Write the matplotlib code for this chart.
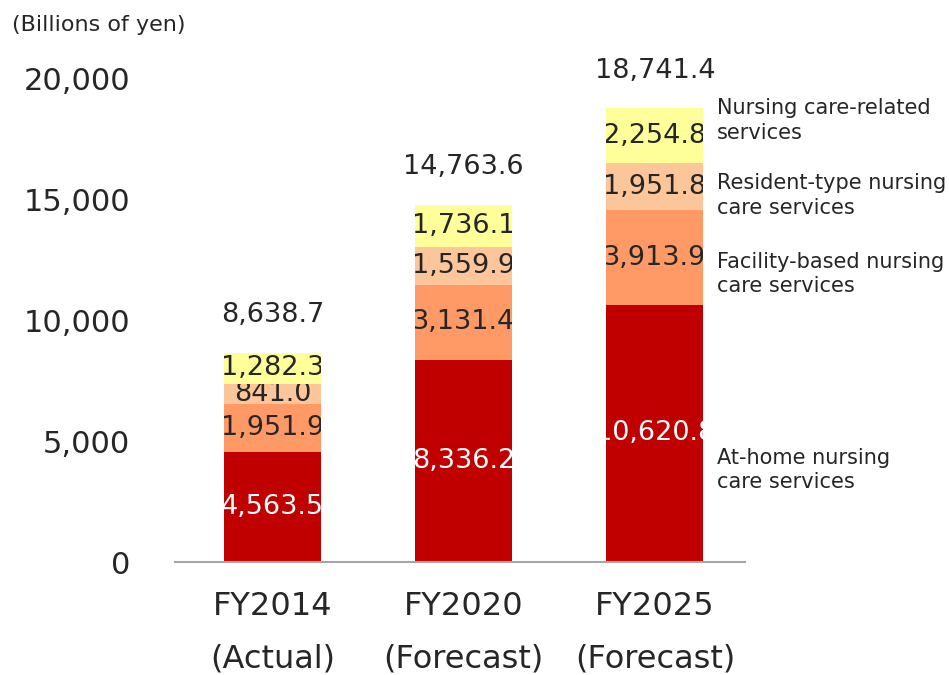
import matplotlib
matplotlib.use("Agg")
from matplotlib import pyplot as plt
import numpy as np

# data (billions of yen)
years = ["FY2014\n(Actual)", "FY2020\n(Forecast)", "FY2025\n(Forecast)"]
at_home = [4563.5, 8336.2, 10620.8]
facility = [1951.9, 3131.4, 3913.9]
resident = [841.0, 1559.9, 1951.8]
related = [1282.3, 1736.1, 2254.8]
totals = [8638.7, 14763.6, 18741.4]
series_names = ["At-home nursing\ncare services",
                "Facility-based nursing\ncare services",
                "Resident-type nursing\ncare services",
                "Nursing care-related\nservices"]

colors = ["#c00000", "#ff9966", "#fcc69a", "#ffff99"]
text_col = "#262626"

plt.rcParams["font.family"] = "DejaVu Sans"
fig = plt.figure(figsize=(9.49, 6.75), dpi=100)
ax = fig.add_axes([0.184, 0.1674, 0.601, 0.717])

x = np.arange(len(years))
series = [at_home, facility, resident, related]
bottom = np.zeros(len(years))
for i, vals in enumerate(series):
    bars = ax.bar(x, vals, 0.508, bottom=bottom, color=colors[i], linewidth=0)
    labels = ax.bar_label(bars, labels=[f"{v:,.1f}" for v in vals],
                          label_type="center", fontsize=19.5,
                          color="white" if i == 0 else text_col)
    for t, p in zip(labels, bars.patches):
        t.set_clip_path(p)
    bottom += np.array(vals)

# totals above bars
for xi, top, tot in zip(x, bottom, totals):
    ax.annotate(f"{tot:,.1f}", (xi, top), xytext=(0, 27), textcoords="offset points",
                ha="center", va="center", fontsize=19.5, color=text_col,
                annotation_clip=False)

# series names to the right of the last bar
name_y = [3800, 11900, 15150, 18250]
for name, yy in zip(series_names, name_y):
    ax.text(2.325, yy, name, ha="left", va="center", fontsize=15,
            color=text_col, linespacing=1.3, clip_on=False)

ax.set_xlim(-0.513, 2.471)
ax.set_ylim(0, 20000)
ax.set_yticks([0, 5000, 10000, 15000, 20000])
ax.set_yticklabels([f"{v:,}" for v in [0, 5000, 10000, 15000, 20000]],
                   fontsize=22, color=text_col)
ax.set_xticks(x)
ax.set_xticklabels(years, fontsize=23, color=text_col, linespacing=1.9)
ax.tick_params(axis="y", length=0, pad=32)
ax.tick_params(axis="x", length=0, pad=21)
for s in ["top", "right", "left"]:
    ax.spines[s].set_visible(False)
ax.spines["bottom"].set_color("#a6a6a6")
ax.spines["bottom"].set_linewidth(1.5)

fig.text(12 / 949, 1 - 25 / 675, "(Billions of yen)", ha="left", va="center",
         fontsize=16, color=text_col)

fig.savefig("out.png", dpi=100)
